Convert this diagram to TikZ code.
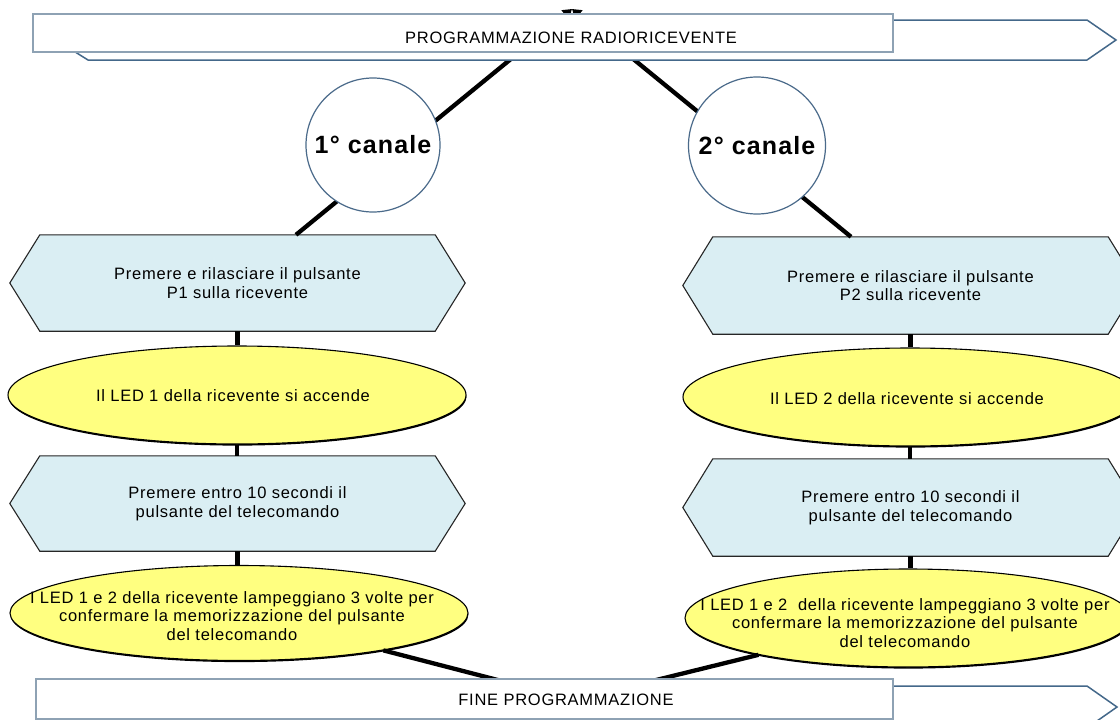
\documentclass[tikz,border=0pt]{standalone}
\usepackage{fontspec}
\setmainfont{Liberation Sans}
\newfontfamily\labfont[LetterSpace=4.5]{Liberation Sans}
\usetikzlibrary{shapes.geometric,arrows.meta,backgrounds,shadows}
\definecolor{hexfill}{HTML}{DAEEF3}
\definecolor{ellfill}{HTML}{FFFF80}
\definecolor{banstroke}{HTML}{44688A}
\definecolor{rectstroke}{HTML}{8EA2B4}
\definecolor{circstroke}{HTML}{4A6A8A}
\begin{document}
\begin{tikzpicture}[x=1pt,y=-1pt,
  conn/.style={line width=4.3pt, black},
  tipconn/.style={conn, -{Triangle[length=9pt,width=11pt]}},
  hexbox/.style={rectangle, minimum width=395pt, inner sep=0pt, align=center,
    font=\labfont\fontsize{16.5}{18.5}\selectfont},
  hexshape/.style={draw=black!85, line width=1.1pt, fill=hexfill, line join=miter},
  ellbox/.style={ellipse, draw=black, line width=1.1pt, fill=ellfill, inner sep=0pt,
    drop shadow={shadow xshift=0.4pt, shadow yshift=-1.6pt, fill=black, opacity=1}},
  elltext/.style={align=center, inner sep=0pt, font=\labfont\fontsize{16.5}{18.5}\selectfont},
  chan/.style={circle, draw=circstroke, line width=1.2pt, fill=white, inner sep=0pt,
    font=\labfont\bfseries\fontsize{25}{28}\selectfont},
  banner/.style={rectangle, draw=rectstroke, line width=1.5pt, fill=white, inner sep=0pt},
  bantext/.style={inner sep=0pt, font=\labfont\fontsize{16.5}{18}\selectfont},
  backarrow/.style={draw=banstroke, line width=1.5pt, fill=white, line join=miter}
]
\useasboundingbox (0,0) rectangle (1120,720);

% left column
\node[hexbox, minimum height=96pt] (h1) at (237.5,283) {Premere e rilasciare il pulsante\\P1 sulla ricevente};
\node[ellbox, minimum width=458pt, minimum height=98pt] (e1) at (237,395) {};
\node[elltext] (e1t) at (233,396) {Il LED 1 della ricevente si accende};
\node[hexbox, minimum height=95pt] (h3) at (237.5,503.5) {Premere entro 10 secondi il\\pulsante del telecomando};
\node[ellbox, minimum width=458pt, minimum height=95pt] (e3) at (239,613) {};
\node[elltext] (e3t) at (232,616) {I LED 1 e 2 della ricevente lampeggiano 3 volte per\\confermare la memorizzazione del pulsante\\del telecomando};

% right column
\node[hexbox, minimum height=97pt] (h2) at (910.5,285.5) {Premere e rilasciare il pulsante\\P2 sulla ricevente};
\node[ellbox, minimum width=454pt, minimum height=98pt] (e2) at (910,397) {};
\node[elltext] (e2t) at (907,399) {Il LED 2 della ricevente si accende};
\node[hexbox, minimum height=97pt] (h4) at (910.5,507.5) {Premere entro 10 secondi il\\pulsante del telecomando};
\node[ellbox, minimum width=446pt, minimum height=98pt] (e4) at (908,618) {};
\node[elltext] (e4t) at (905,623) {I LED 1 e 2\ \ della ricevente lampeggiano 3 volte per\\confermare la memorizzazione del pulsante\\del telecomando};

\begin{scope}[on background layer]
  \fill[white] (0,0) rectangle (1120,720);
  \foreach \h in {h1,h2,h3,h4}{
    \path[hexshape] (\h.north west) -- (\h.north east) -- ([xshift=30pt]\h.east)
      -- (\h.south east) -- (\h.south west) -- ([xshift=-30pt]\h.west) -- cycle;
  }
\end{scope}

% vertical connectors
\draw[conn] (h1.south) -- (h1.south |- e1.north);
\draw[conn] (e1.south) -- (e1.south |- h3.north);
\draw[conn] (h3.south) -- (h3.south |- e3.north);
\draw[conn] (h2.south) -- (h2.south |- e2.north);
\draw[conn] (e2.south) -- (e2.south |- h4.north);
\draw[conn] (h4.south) -- (h4.south |- e4.north);

% top connectors (behind circles and banner)
\coordinate (topc) at (572,9);
\draw[tipconn] ([xshift=58.5pt]h1.north) -- (topc);
\draw[tipconn] ([xshift=-59.5pt]h2.north) -- (topc);

\node[chan, minimum size=134pt] (c1) at (373,145) {1° canale};
\node[chan, minimum size=137pt] (c2) at (757,145.5) {2° canale};

% bottom connectors
\coordinate (botc) at (575,700);
\draw[tipconn] (e3) -- (botc);
\draw[tipconn] (e4) -- (botc);

% top banner
\path[backarrow] (56,40) -- (88,20) -- (1087,20) -- (1116,40) -- (1087,60) -- (88,60) -- cycle;
\node[banner, minimum width=860pt, minimum height=38pt] (tb) at (463,33) {};
\node[bantext] (tbt) at (571,38) {PROGRAMMAZIONE RADIORICEVENTE};

% bottom banner
\path[backarrow] (100,686) -- (1087,686) -- (1117,707) -- (1087,728) -- (100,728) -- cycle;
\node[banner, minimum width=857pt, minimum height=40pt] (bb) at (464.5,699) {};
\node[bantext] (bbt) at (566,700) {FINE PROGRAMMAZIONE};
\end{tikzpicture}
\end{document}
